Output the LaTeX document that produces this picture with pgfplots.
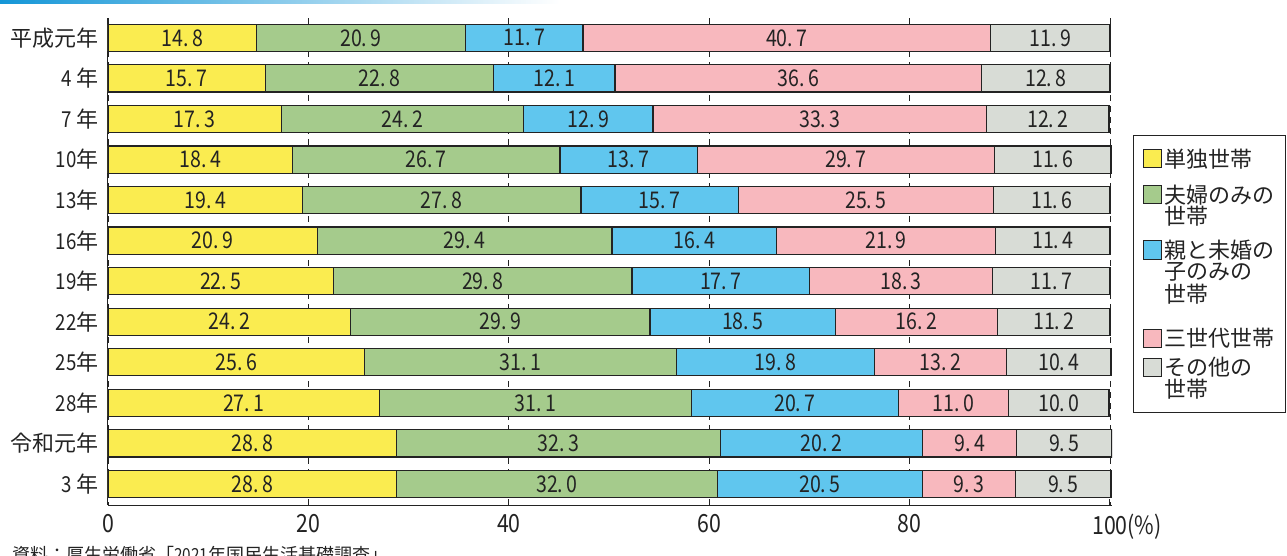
\documentclass[border=0pt]{standalone}
\usepackage{pgfplots}
\pgfplotsset{compat=1.18}
\usepackage{fontspec}
\setmainfont{Noto Sans CJK JP}
\newfontfamily\numfont[FakeStretch=0.85]{Noto Sans CJK JP}
\definecolor{cYel}{RGB}{250,236,80}
\definecolor{cGrn}{RGB}{165,203,140}
\definecolor{cBlu}{RGB}{96,198,238}
\definecolor{cPnk}{RGB}{248,184,190}
\definecolor{cGry}{RGB}{216,220,214}
\definecolor{cInk}{RGB}{35,35,35}
\definecolor{cTop}{RGB}{20,150,215}
% legend entry: colour, centre of first line (pt)
\newcommand{\legsq}[2]{\draw[cInk, line width=1pt, fill=#1] (1143pt,#2pt-9pt) rectangle (1161pt,#2pt+9pt);}
\newcommand{\legtx}[2]{\node[anchor=west, inner sep=0pt, font=\fontsize{22}{22}\selectfont, text=cInk] at (1164pt,#1pt) {#2};}
\begin{document}
\begin{tikzpicture}
\shade[left color=cTop, right color=white] (0pt,551pt) rectangle (560pt,555pt);
\begin{axis}[
  at={(108pt,50pt)}, anchor=south west,
  scale only axis, width=1004pt, height=487pt,
  xbar stacked, bar width=0.67,
  xmin=0, xmax=100.2,
  ymin=-0.49, ymax=11.52, y dir=reverse,
  ytick={0,...,11},
  yticklabels={平成元年,{\numfont 4} 年,{\numfont 7} 年,{\numfont 10}年,{\numfont 13}年,{\numfont 16}年,{\numfont 19}年,{\numfont 22}年,{\numfont 25}年,{\numfont 28}年,令和元年,{\numfont 3} 年},
  xtick={0,20,40,60,80,100},
  xticklabels={0,20,40,60,80,100\rlap{(\%)}},
  axis x line*=bottom, axis y line*=left,
  axis line style={cInk, line width=1pt},
  ytick style={draw=none},
  xtick style={cInk, line width=1pt},
  tick align=inside, major tick length=6pt,
  xmajorgrids, major grid style={cInk, line width=0.9pt, dash pattern=on 6pt off 5pt},
  x tick label style={font=\numfont\fontsize{25}{25}\selectfont, text=cInk, yshift=-6pt},
  y tick label style={font=\fontsize{22}{22}\selectfont, text=cInk, xshift=-6pt},
  /pgf/number format/assume math mode=true,
  every axis plot/.append style={draw=cInk, line width=1.2pt},
  nodes near coords={\pgfmathprintnumber[fixed,fixed zerofill,precision=1,assume math mode=true,set decimal separator={.\hspace{0.15em}}]{\pgfplotspointmeta}},
  every node near coord/.append style={font=\numfont\fontsize{23}{23}\selectfont, text=cInk},
]
\addplot[fill=cYel] coordinates {(14.8,0) (15.7,1) (17.3,2) (18.4,3) (19.4,4) (20.9,5) (22.5,6) (24.2,7) (25.6,8) (27.1,9) (28.8,10) (28.8,11)};
\addplot[fill=cGrn] coordinates {(20.9,0) (22.8,1) (24.2,2) (26.7,3) (27.8,4) (29.4,5) (29.8,6) (29.9,7) (31.1,8) (31.1,9) (32.3,10) (32.0,11)};
\addplot[fill=cBlu] coordinates {(11.7,0) (12.1,1) (12.9,2) (13.7,3) (15.7,4) (16.4,5) (17.7,6) (18.5,7) (19.8,8) (20.7,9) (20.2,10) (20.5,11)};
\addplot[fill=cPnk] coordinates {(40.7,0) (36.6,1) (33.3,2) (29.7,3) (25.5,4) (21.9,5) (18.3,6) (16.2,7) (13.2,8) (11.0,9) (9.4,10) (9.3,11)};
\addplot[fill=cGry] coordinates {(11.9,0) (12.8,1) (12.2,2) (11.6,3) (11.6,4) (11.4,5) (11.7,6) (11.2,7) (10.4,8) (10.0,9) (9.5,10) (9.5,11)};
\end{axis}
% legend box
\draw[cInk, line width=0.9pt] (1133pt,143pt) rectangle (1285pt,420pt);
\legsq{cYel}{396} \legtx{396}{単独世帯}
\legsq{cGrn}{360} \legtx{360}{夫婦のみの} \legtx{339}{世帯}
\legsq{cBlu}{305} \legtx{305}{親と未婚の} \legtx{283}{子のみの} \legtx{261}{世帯}
\legsq{cPnk}{217} \legtx{217}{三世代世帯}
\legsq{cGry}{188} \legtx{188}{その他の} \legtx{166}{世帯}
% source line, cut by the lower edge as in the original
\node[anchor=north west, inner sep=0pt, font=\fontsize{18}{18}\selectfont, text=cInk] at (12pt,9pt) {資料：厚生労働省「{\numfont 2021}年国民生活基礎調査」};
\pgfresetboundingbox
\useasboundingbox (0pt,0pt) rectangle (1287pt,555pt);
\end{tikzpicture}
\end{document}
